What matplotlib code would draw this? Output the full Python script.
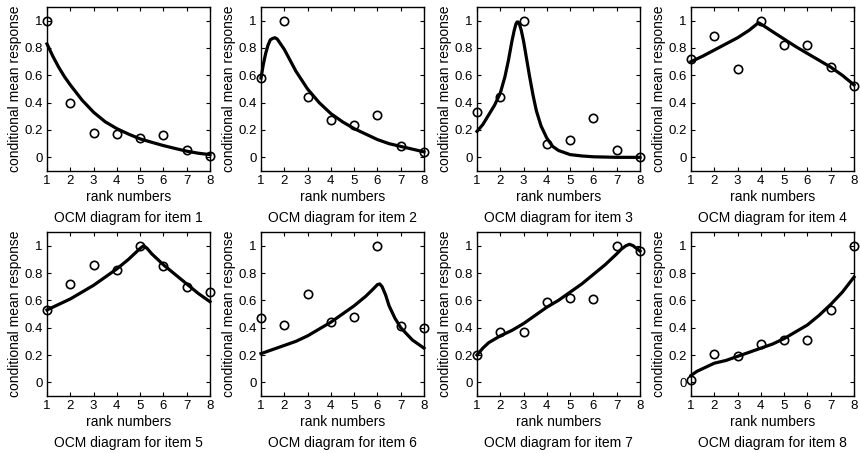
import numpy as np
import matplotlib.pyplot as plt

plt.rcParams['font.family'] = ['Liberation Sans', 'DejaVu Sans']

# rank numbers and observed conditional mean responses per item
ranks = [1, 2, 3, 4, 5, 6, 7, 8]
obs1 = [1.00, 0.40, 0.18, 0.17, 0.14, 0.16, 0.05, 0.01]
obs2 = [0.58, 1.00, 0.44, 0.27, 0.24, 0.31, 0.08, 0.04]
obs3 = [0.33, 0.44, 1.00, 0.10, 0.13, 0.29, 0.05, 0.00]
obs4 = [0.72, 0.89, 0.65, 1.00, 0.82, 0.82, 0.66, 0.52]
obs5 = [0.53, 0.72, 0.86, 0.82, 1.00, 0.85, 0.70, 0.66]
obs6 = [0.47, 0.42, 0.65, 0.44, 0.48, 1.00, 0.41, 0.40]
obs7 = [0.20, 0.37, 0.37, 0.59, 0.62, 0.61, 1.00, 0.96]
obs8 = [0.02, 0.21, 0.19, 0.28, 0.31, 0.31, 0.53, 1.00]

# fitted curves
fx1 = [1, 1.25, 1.5, 1.75, 2, 2.5, 3, 3.5, 4, 4.5, 5, 5.5, 6, 6.5, 7, 7.5, 8]
fy1 = [0.83, 0.74, 0.66, 0.59, 0.53, 0.42, 0.33, 0.26, 0.21, 0.17, 0.135, 0.11, 0.086, 0.065, 0.045, 0.03, 0.02]
fx2 = [1, 1.1, 1.2, 1.3, 1.4, 1.5, 1.6, 1.7, 1.8, 2, 2.25, 2.5, 3, 3.5, 4, 4.5, 5, 5.5, 6, 6.5, 7, 7.5, 8]
fy2 = [0.58, 0.68, 0.76, 0.82, 0.86, 0.87, 0.875, 0.865, 0.84, 0.79, 0.71, 0.63, 0.50, 0.40, 0.32, 0.26, 0.21, 0.17, 0.13, 0.10, 0.08, 0.06, 0.04]
fx3 = [1, 1.25, 1.5, 1.75, 2, 2.2, 2.35, 2.5, 2.6, 2.67, 2.72, 2.77, 2.83, 2.9, 3, 3.1, 3.25, 3.4, 3.55, 3.75, 4, 4.25, 4.5, 5, 5.5, 6, 7, 8]
fy3 = [0.19, 0.24, 0.31, 0.38, 0.47, 0.59, 0.71, 0.85, 0.93, 0.975, 0.99, 0.99, 0.97, 0.93, 0.85, 0.75, 0.60, 0.46, 0.34, 0.23, 0.14, 0.08, 0.05, 0.02, 0.01, 0.004, 0.0, 0.0]
fx4 = [1, 1.5, 2, 2.5, 3, 3.5, 3.9, 4.1, 4.5, 5, 5.5, 6, 6.5, 7, 7.5, 8]
fy4 = [0.70, 0.74, 0.785, 0.83, 0.875, 0.93, 0.985, 0.965, 0.92, 0.865, 0.81, 0.76, 0.71, 0.66, 0.60, 0.53]
fx5 = [1, 1.5, 2, 2.5, 3, 3.5, 4, 4.5, 5, 5.15, 5.3, 5.5, 6, 6.5, 7, 7.5, 8]
fy5 = [0.53, 0.57, 0.61, 0.66, 0.71, 0.77, 0.83, 0.90, 0.98, 1.0, 0.98, 0.94, 0.86, 0.79, 0.72, 0.65, 0.59]
fx6 = [1, 1.5, 2, 2.5, 3, 3.5, 4, 4.5, 5, 5.5, 5.8, 6, 6.1, 6.2, 6.35, 6.5, 6.75, 7, 7.5, 8]
fy6 = [0.21, 0.24, 0.27, 0.30, 0.34, 0.39, 0.44, 0.50, 0.56, 0.63, 0.68, 0.715, 0.72, 0.70, 0.64, 0.56, 0.47, 0.40, 0.31, 0.25]
fx7 = [1, 1.25, 1.5, 2, 2.5, 3, 3.5, 4, 4.5, 5, 5.5, 6, 6.5, 7, 7.2, 7.4, 7.55, 7.7, 7.85, 8]
fy7 = [0.20, 0.25, 0.29, 0.34, 0.38, 0.43, 0.49, 0.55, 0.60, 0.66, 0.72, 0.79, 0.86, 0.94, 0.975, 1.0, 1.01, 1.0, 0.98, 0.96]
fx8 = [1, 1.25, 1.5, 2, 2.5, 3, 3.5, 4, 4.5, 5, 5.5, 6, 6.5, 7, 7.5, 8]
fy8 = [0.05, 0.08, 0.10, 0.14, 0.16, 0.19, 0.22, 0.25, 0.28, 0.32, 0.37, 0.42, 0.49, 0.57, 0.66, 0.77]

observed = [obs1, obs2, obs3, obs4, obs5, obs6, obs7, obs8]
fits = [(fx1, fy1), (fx2, fy2), (fx3, fy3), (fx4, fy4),
        (fx5, fy5), (fx6, fy6), (fx7, fy7), (fx8, fy8)]

fig = plt.figure(figsize=(8.6, 4.53), dpi=100)
lefts = [47, 261, 477, 691]
bottoms = [171, 396]

for i in range(8):
    r, c = divmod(i, 4)
    ax = fig.add_axes([lefts[c] / 860, (453 - bottoms[r]) / 453, 163 / 860, 164 / 453])
    fx, fy = fits[i]
    ax.plot(fx, fy, 'k-', lw=2.3, clip_on=False, zorder=3, solid_joinstyle='round')
    ax.plot(ranks, observed[i], 'o', mfc='none', mec='k', ms=6, mew=1.2, clip_on=False, zorder=4)
    ax.set_xlim(1, 8)
    ax.set_ylim(-0.1, 1.1)
    ax.set_xticks(ranks)
    ax.set_yticks([0, 0.2, 0.4, 0.6, 0.8, 1])
    ax.set_yticklabels(['0', '0.2', '0.4', '0.6', '0.8', '1'])
    ax.tick_params(direction='in', top=True, right=True, length=3, width=0.8,
                   labelsize=9.5, pad=3)
    for s in ax.spines.values():
        s.set_linewidth(1.0)
    ax.set_xlabel('rank numbers', fontsize=10, labelpad=2)
    ax.set_ylabel('conditional mean response', fontsize=10, labelpad=2)
    ax.text(0.5, -0.285, 'OCM diagram for item %d' % (i + 1), transform=ax.transAxes,
            ha='center', va='center', fontsize=10)

fig.savefig('out.png', dpi=100)
